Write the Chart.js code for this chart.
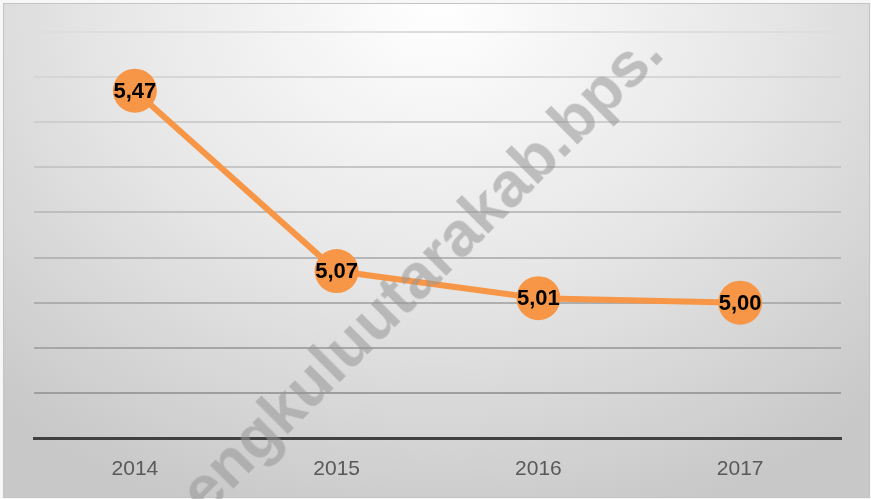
<!DOCTYPE html>
<html>
<head>
<meta charset="utf-8">
<script src="https://cdn.jsdelivr.net/npm/chart.js@4.4.0/dist/chart.umd.min.js"></script>
<style>
  html, body { margin:0; padding:0; background:#f7f7f7; }
  #wrap {
    position:relative; width:871px; height:499px; overflow:hidden;
  }
  #bg {
    position:absolute; left:3px; top:3px; width:865px; height:493px;
    border:1px solid #c4c4c4;
    background: radial-gradient(ellipse 75% 110% at 50% 0%, #ffffff 0%, #e7e7e7 50%, #c8c8c8 100%);
  }
  #chart { position:absolute; left:0; top:0; }
  #mark {
    position:absolute; left:0; top:0;
    font-family:"Liberation Sans", Arial, sans-serif; font-weight:bold; font-size:63px;
    line-height:1; white-space:nowrap; color:rgba(150,150,150,0.55);
    transform-origin:0 0; pointer-events:none;
  }
</style>
</head>
<body>
<div id="wrap">
  <div id="bg"></div>
  <canvas id="chart" width="871" height="499"></canvas>
  <div id="mark">engkuluutarakab.bps.</div>
</div>
<script>
const YEARS = ['2014','2015','2016','2017'];
const VALUES = [5.47, 5.07, 5.01, 5.00];
const VALUE_LABELS = ['5,47','5,07','5,01','5,00'];
const Y_MIN = 4.7, Y_MAX = 5.6, Y_STEP = 0.1;

const ORANGE = '#f79646';

// watermark: put the baseline start at (bx, by), rotated up to the right
(function placeMark(){
  const el = document.getElementById('mark');
  const a = 45 * Math.PI / 180;
  const asc = 63 * 0.905;
  const bx = 208, by = 519;
  el.style.left = (bx - asc * Math.sin(a)) + 'px';
  el.style.top = (by - asc * Math.cos(a)) + 'px';
  el.style.transform = 'rotate(-45deg)';
})();

const valueLabels = {
  id: 'valueLabels',
  afterDatasetsDraw(chart){
    const ctx = chart.ctx;
    const meta = chart.getDatasetMeta(0);
    ctx.save();
    ctx.font = 'bold 22px "Liberation Sans", Arial, sans-serif';
    ctx.fillStyle = '#000';
    ctx.textAlign = 'center';
    ctx.textBaseline = 'middle';
    meta.data.forEach((pt, i) => ctx.fillText(VALUE_LABELS[i], pt.x, pt.y + 1));
    ctx.restore();
  }
};

function gridColor(c){
  // lines get lighter toward the top
  const t = (c.index || 0) / 9;
  const v = Math.round(150 + t * 72);
  return `rgb(${v},${v},${v})`;
}

new Chart(document.getElementById('chart').getContext('2d'), {
  type: 'line',
  data: {
    labels: YEARS,
    datasets: [{
      data: VALUES,
      borderColor: ORANGE,
      borderWidth: 6,
      pointRadius: 22,
      pointHoverRadius: 22,
      pointBackgroundColor: ORANGE,
      pointBorderWidth: 0,
      tension: 0,
      clip: false
    }]
  },
  options: {
    responsive: false,
    animation: false,
    events: [],
    layout: { padding: { left: 34, right: 30, top: 32, bottom: 0 } },
    plugins: { legend: { display: false }, tooltip: { enabled: false } },
    scales: {
      x: {
        offset: true,
        afterFit: s => { s.height = 61; },
        grid: { display: false, drawTicks: false },
        border: { display: true, color: '#404040', width: 3 },
        ticks: {
          color: '#595959', padding: 19,
          font: { family: '"Liberation Sans", Arial, sans-serif', size: 21 }
        }
      },
      y: {
        min: Y_MIN, max: Y_MAX,
        afterFit: s => { s.width = 0; },
        ticks: { display: false, stepSize: Y_STEP },
        grid: { color: gridColor, lineWidth: 2, drawTicks: false },
        border: { display: false }
      }
    }
  },
  plugins: [valueLabels]
});
</script>
</body>
</html>
